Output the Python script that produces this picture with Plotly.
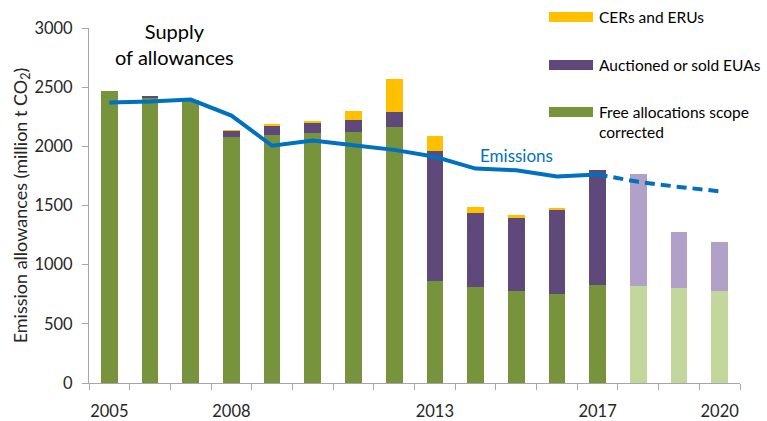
import plotly.graph_objects as go

years = list(range(2005, 2021))
free_alloc = [2470, 2410, 2390, 2080, 2100, 2110, 2125, 2160, 860, 810, 775, 750, 830, 820, 800, 780]
auctioned = [0, 15, 0, 50, 75, 85, 95, 130, 1100, 630, 620, 715, 970, 945, 480, 415]
cers_erus = [0, 0, 0, 8, 10, 20, 75, 275, 130, 50, 25, 10, 0, 0, 0, 0]
emis_years = list(range(2005, 2018))
emissions = [2370, 2378, 2395, 2260, 2005, 2050, 2010, 1970, 1912, 1812, 1798, 1745, 1762]
proj_years = [2017, 2018, 2019, 2020]
emissions_proj = [1762, 1700, 1657, 1620]
first_projected = 2018
tick_years = [2005, 2008, 2013, 2017, 2020]

GREEN, GREEN_L = "#77933C", "#C3D69B"
PURPLE, PURPLE_L = "#5F497A", "#B1A0C7"
YELLOW = "#FFC000"
BLUE = "#0070C0"
FONT = "Lato, 'Open Sans', sans-serif"

W, H = 767, 421
L, R, T, B = 89, 27, 28, 38


def px_x(x):
    return (x - L) / (W - L - R)


def px_y(y):
    return (H - B - y) / (H - T - B)


green_cols = [GREEN_L if y >= first_projected else GREEN for y in years]
purple_cols = [PURPLE_L if y >= first_projected else PURPLE for y in years]

fig = go.Figure()
fig.add_bar(x=years, y=free_alloc, marker=dict(color=green_cols, line_width=0), width=0.41)
fig.add_bar(x=years, y=auctioned, marker=dict(color=purple_cols, line_width=0), width=0.41)
fig.add_bar(x=years, y=cers_erus, marker=dict(color=YELLOW, line_width=0), width=0.41)
fig.add_scatter(x=emis_years, y=emissions, mode="lines",
                line=dict(color=BLUE, width=4))
fig.add_scatter(x=proj_years, y=emissions_proj, mode="lines",
                line=dict(color=BLUE, width=4, dash="10px,6px"))

fig.update_layout(
    barmode="stack",
    showlegend=False,
    width=W,
    height=H,
    margin=dict(l=L, r=R, t=T, b=B, pad=0),
    plot_bgcolor="white",
    paper_bgcolor="white",
    font=dict(family=FONT, size=16, color="#262626"),
)

fig.update_xaxes(
    range=[2004.5, 2020.5],
    automargin=False,
    tickmode="array",
    tickvals=tick_years,
    ticks="outside",
    ticklen=13,
    tickcolor="rgba(0,0,0,0)",
    minor=dict(tickmode="array", tickvals=[y - 0.5 for y in years] + [2020.5],
               ticks="outside", ticklen=6, tickcolor="#A6A6A6"),
    showline=True,
    linecolor="#A6A6A6",
    linewidth=1,
    showgrid=False,
    zeroline=False,
    tickfont=dict(size=16.5),
)
fig.update_yaxes(
    range=[0, 3000],
    automargin=False,
    dtick=500,
    ticks="outside",
    ticklen=6,
    tickcolor="#A6A6A6",
    ticklabelstandoff=6,
    showline=True,
    linecolor="#A6A6A6",
    showgrid=False,
    zeroline=False,
    tickfont=dict(size=16.5),
    title=dict(text="Emission allowances (million t CO<sub>2</sub>)",
               font=dict(size=18), standoff=2),
)

# text labels
fig.add_annotation(x=px_x(174), y=px_y(44), xref="paper", yref="paper",
                   xanchor="center", yanchor="middle",
                   text="Supply<br>of allowances", showarrow=False,
                   font=dict(size=20, color="#000000"), align="center")
fig.add_annotation(x=px_x(516), y=px_y(155), xref="paper", yref="paper",
                   xanchor="center", yanchor="middle",
                   text="Emissions", showarrow=False,
                   font=dict(size=17, color=BLUE))

# legend drawn by hand (wide swatches)
legend_items = [("CERs and ERUs", YELLOW, 17),
                ("Auctioned or sold EUAs", PURPLE, 65),
                ("Free allocations scope<br>corrected", GREEN, 112)]
for label, col, yc in legend_items:
    fig.add_shape(type="rect", xref="paper", yref="paper",
                  x0=px_x(549), x1=px_x(593), y0=px_y(yc + 5), y1=px_y(yc - 5),
                  fillcolor=col, line_width=0)
    fig.add_annotation(x=px_x(597), y=px_y(yc - 11), xref="paper", yref="paper",
                       text=label, showarrow=False, xanchor="left", yanchor="top",
                       align="left", font=dict(size=15.5, color="#000000"))

# drop the default 8px page margin so the figure sits at the window corner
fig.write_html("out.html", config={"displayModeBar": False},
               post_script="document.body.style.margin='0';")
